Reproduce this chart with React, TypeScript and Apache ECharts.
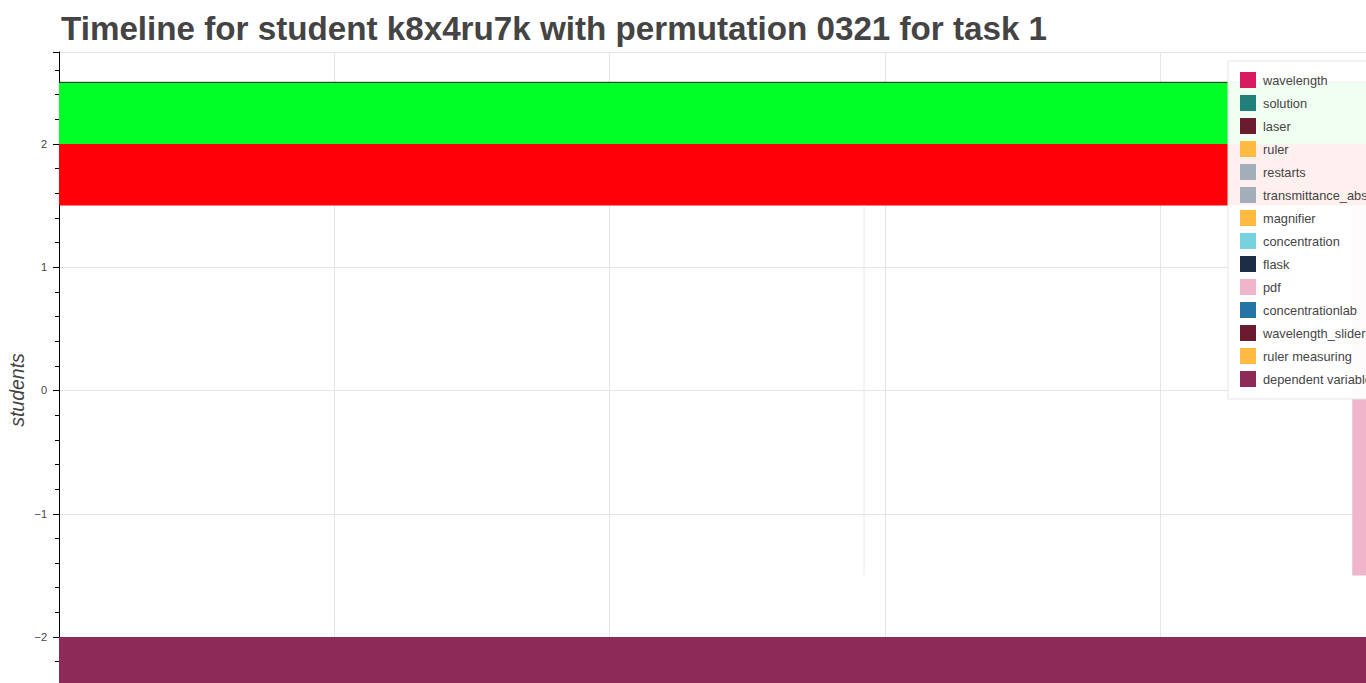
import React, { useEffect, useRef } from "react";
import * as echarts from "echarts";

const titleText = "Timeline for student k8x4ru7k with permutation 0321 for task 1";
const yAxisName = "students";

const legendNames = [
  "wavelength",
  "solution",
  "laser",
  "ruler",
  "restarts",
  "transmittance_absorbance",
  "magnifier",
  "concentration",
  "flask",
  "pdf",
  "concentrationlab",
  "wavelength_slider",
  "ruler measuring",
  "dependent variable",
];
const legendColors = [
  "#d81b5e",
  "#22807b",
  "#6b1b30",
  "#ffbb40",
  "#a3aebb",
  "#a3aebb",
  "#ffbb40",
  "#76d3de",
  "#1b2e45",
  "#efb6cb",
  "#2474a6",
  "#6b1b30",
  "#ffbb40",
  "#8e2a57",
];

// intervals: [xStart, xEnd, yLow, yHigh]
const greenBand = [[0, 5, 2.0, 2.5]];
const redBand = [[0, 5, 1.5, 2.0]];
const pdfBars = [[4.697, 5, -1.5, 1.5]];
const dependentBars = [[0, 5, -3, -2.0]];
const faintBars = [[2.922, 2.926, -1.5, 1.5]];
const topLines = [[0, 5, 2.5]];

const yMin = -2.373;
const yMax = 2.746;
const xMin = 0;
const xMax = 4.747;

const FONT = "'Liberation Sans', Arial, Helvetica, sans-serif";

function rectRender(color: string) {
  return (params: any, api: any) => {
    const p0 = api.coord([api.value(0), api.value(3)]);
    const p1 = api.coord([api.value(1), api.value(2)]);
    const cs = params.coordSys;
    const shape = echarts.graphic.clipRectByRect(
      { x: p0[0], y: p0[1], width: p1[0] - p0[0], height: p1[1] - p0[1] },
      { x: cs.x, y: cs.y, width: cs.width, height: cs.height }
    );
    if (!shape) return null;
    return { type: "rect", shape, style: { fill: color } };
  };
}

function lineRender(params: any, api: any) {
  const p0 = api.coord([api.value(0), api.value(2)]);
  const p1 = api.coord([api.value(1), api.value(2)]);
  const cs = params.coordSys;
  const x2 = Math.min(p1[0], cs.x + cs.width);
  return {
    type: "line",
    shape: { x1: Math.max(p0[0], cs.x), y1: p0[1], x2, y2: p1[1] },
    style: { stroke: "#222", lineWidth: 1 },
  };
}

export default function App() {
  const ref = useRef<HTMLDivElement>(null);
  useEffect(() => {
    if (!ref.current) return;
    const chart = echarts.init(ref.current, undefined, { renderer: "svg" });
    const legendSeries = legendNames.map((name, i) => {
      let data: number[][] = [];
      if (name === "pdf") data = pdfBars;
      if (name === "dependent variable") data = dependentBars;
      return {
        name,
        type: "custom",
        renderItem: rectRender(legendColors[i]),
        itemStyle: { color: legendColors[i] },
        data,
        z: 3,
      };
    });
    chart.setOption({
      animation: false,
      title: {
        text: titleText,
        left: 56,
        top: 7,
        textStyle: {
          fontSize: 33.2,
          fontWeight: "bold",
          color: "#444444",
          fontFamily: FONT,
        },
      },
      graphic: [
        {
          type: "text",
          x: 17,
          y: 390,
          rotation: Math.PI / 2,
          style: {
            text: yAxisName,
            fill: "#444444",
            font: "italic 19.5px " + FONT,
            align: "center",
            verticalAlign: "middle",
          },
        },
      ],
      grid: {
        left: 59,
        top: 52,
        right: 0,
        bottom: 0,
        containLabel: false,
        outerBoundsMode: "none",
      },
      xAxis: {
        type: "value",
        min: xMin,
        max: xMax,
        splitNumber: 5,
        axisLine: { show: false },
        axisTick: { show: false },
        axisLabel: { show: false },
        splitLine: { show: true, lineStyle: { color: "#e5e5e5", width: 1 } },
      },
      yAxis: {
        type: "value",
        min: yMin,
        max: yMax,
        splitNumber: 5,
        axisLine: { show: true, lineStyle: { color: "#000", width: 1 } },
        axisTick: { show: true, length: 6, lineStyle: { color: "#000" } },
        minorTick: { show: true, splitNumber: 5, length: 4, lineStyle: { color: "#000" } },
        axisLabel: {
          showMinLabel: false,
          showMaxLabel: false,
          margin: 12,
          fontSize: 11,
          color: "#444444",
          fontFamily: FONT,
          formatter: (v: number) => String(v).replace("-", "\u2212"),
        },
        splitLine: { show: true, lineStyle: { color: "#e5e5e5", width: 1 } },
      },
      legend: {
        orient: "vertical",
        left: 1228,
        top: 61,
        padding: [11, 30, 12, 12],
        itemWidth: 16,
        itemHeight: 16,
        itemGap: 7,
        icon: "rect",
        backgroundColor: "rgba(255,255,255,0.94)",
        borderColor: "#e5e5e5",
        borderWidth: 1,
        data: legendNames,
        textStyle: {
          fontSize: 12.8,
          color: "#444444",
          fontFamily: FONT,
          padding: [0, 0, 0, 2],
        },
        z: 10,
      },
      series: [
        { name: "green", type: "custom", renderItem: rectRender("#00ff27"), data: greenBand, z: 2 },
        { name: "red", type: "custom", renderItem: rectRender("#ff0008"), data: redBand, z: 2 },
        { name: "faint", type: "custom", renderItem: rectRender("#e8ebf0"), data: faintBars, z: 2 },
        { name: "topline", type: "custom", renderItem: lineRender, data: topLines, z: 4 },
        ...legendSeries,
      ],
    });
    return () => chart.dispose();
  }, []);
  return (
    <div
      ref={ref}
      style={{ position: "fixed", left: 0, top: 0, width: 1366, height: 683, background: "#fff" }}
    />
  );
}
